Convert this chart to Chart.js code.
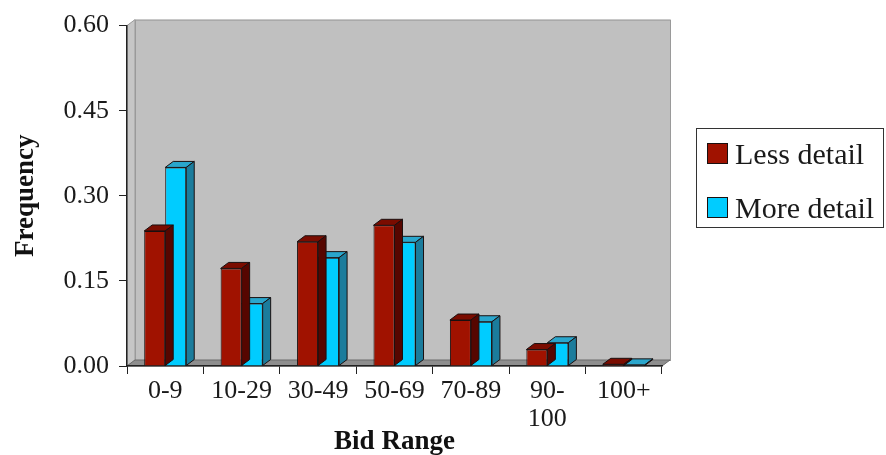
<!DOCTYPE html>
<html>
<head>
<meta charset="utf-8">
<script src="https://cdn.jsdelivr.net/npm/chart.js@4.4.1/dist/chart.umd.min.js"></script>
<style>
  html, body { margin: 0; padding: 0; background: #ffffff; }
  #wrap { width: 886px; height: 455px; }
</style>
</head>
<body>
<div id="wrap"><canvas id="graphe" width="886" height="455"></canvas></div>
<script>
// donnees
const categories = ['0-9', '10-29', '30-49', '50-69', '70-89', ['90-', '100'], '100+'];
const lessDetail = [0.238, 0.172, 0.219, 0.248, 0.081, 0.029, 0.003];
const moreDetail = [0.350, 0.110, 0.191, 0.218, 0.078, 0.041, 0.002];
const yTickLabels = ['0.00', '0.15', '0.30', '0.45', '0.60'];
const seriesNames = ['Less detail', 'More detail'];

// couleurs
const rouge = { front: '#a01200', top: '#7a0c00', side: '#560600' };
const cyan = { front: '#00ccff', top: '#2aa6cc', side: '#1b7c9c' };
const couleurs = [rouge, cyan];

const DX = 8, DY = 6;
const serif = "'Liberation Serif', 'Times New Roman', serif";

// mur et sol en 3D
const murPlugin = {
    id: 'mur',
    beforeDraw(chart) {
        const a = chart.chartArea;
        const ctx = chart.ctx;
        ctx.save();
        ctx.lineWidth = 1;
        // mur du fond
        ctx.fillStyle = '#c0c0c0';
        ctx.strokeStyle = '#9a9a9a';
        ctx.fillRect(a.left + DX, a.top - DY, a.right - a.left, a.bottom - a.top);
        ctx.strokeRect(a.left + DX + 0.5, a.top - DY + 0.5, a.right - a.left, a.bottom - a.top);
        // mur de gauche
        ctx.fillStyle = '#c6c6c6';
        ctx.beginPath();
        ctx.moveTo(a.left, a.top);
        ctx.lineTo(a.left + DX, a.top - DY);
        ctx.lineTo(a.left + DX, a.bottom - DY);
        ctx.lineTo(a.left, a.bottom);
        ctx.closePath();
        ctx.fill();
        ctx.stroke();
        // sol
        ctx.fillStyle = '#8e8e8e';
        ctx.beginPath();
        ctx.moveTo(a.left, a.bottom);
        ctx.lineTo(a.left + DX, a.bottom - DY);
        ctx.lineTo(a.right + DX, a.bottom - DY);
        ctx.lineTo(a.right, a.bottom);
        ctx.closePath();
        ctx.fill();
        ctx.strokeStyle = '#6a6a6a';
        ctx.stroke();
        ctx.restore();
    },
    afterDatasetDraw(chart, args) {
        const ctx = chart.ctx;
        const c = couleurs[args.index];
        ctx.save();
        ctx.lineWidth = 1;
        ctx.strokeStyle = '#1a1010';
        args.meta.data.forEach(bar => {
            const x1 = bar.x - bar.width / 2;
            const x2 = bar.x + bar.width / 2;
            const top = bar.y;
            const base = bar.base;
            // face de dessus
            ctx.fillStyle = c.top;
            ctx.beginPath();
            ctx.moveTo(x1, top);
            ctx.lineTo(x1 + DX, top - DY);
            ctx.lineTo(x2 + DX, top - DY);
            ctx.lineTo(x2, top);
            ctx.closePath();
            ctx.fill();
            ctx.stroke();
            // face de cote
            ctx.fillStyle = c.side;
            ctx.beginPath();
            ctx.moveTo(x2, top);
            ctx.lineTo(x2 + DX, top - DY);
            ctx.lineTo(x2 + DX, base - DY);
            ctx.lineTo(x2, base);
            ctx.closePath();
            ctx.fill();
            ctx.stroke();
        });
        ctx.restore();
    },
    afterDraw(chart) {
        // legende
        const ctx = chart.ctx;
        ctx.save();
        ctx.strokeStyle = '#333333';
        ctx.lineWidth = 1;
        ctx.fillStyle = '#ffffff';
        ctx.fillRect(696, 128, 187, 99);
        ctx.strokeRect(696.5, 128.5, 187, 99);
        ctx.font = '30px ' + serif;
        ctx.textBaseline = 'alphabetic';
        for (let i = 0; i < seriesNames.length; i++) {
            const y = 143 + i * 54;
            ctx.fillStyle = couleurs[i].front;
            ctx.fillRect(707, y, 21, 21);
            ctx.strokeStyle = '#1a1010';
            ctx.strokeRect(707.5, y + 0.5, 20, 20);
            ctx.fillStyle = '#1a1a1a';
            ctx.fillText(seriesNames[i], 735, y + 21);
        }
        ctx.restore();
    }
};

var chart = new Chart(document.getElementById('graphe'), {
    type: 'bar',
    data: {
        labels: categories,
        datasets: [
            { label: seriesNames[0], data: lessDetail, backgroundColor: rouge.front,
              borderColor: '#1a1010', borderWidth: 1, categoryPercentage: 0.55, barPercentage: 1 },
            { label: seriesNames[1], data: moreDetail, backgroundColor: cyan.front,
              borderColor: '#1a1010', borderWidth: 1, categoryPercentage: 0.55, barPercentage: 1 }
        ]
    },
    options: {
        responsive: false,
        animation: false,
        layout: { padding: { top: 19, right: 224, left: 0, bottom: 0 } },
        plugins: {
            legend: { display: false },
            tooltip: { enabled: false }
        },
        scales: {
            x: {
                grid: { offset: true, drawOnChartArea: false, drawTicks: true, tickLength: 8, color: '#222' },
                border: { display: true, color: '#222', width: 1.5 },
                ticks: { font: { family: serif, size: 26, lineHeight: 1.05 }, color: '#1a1a1a', padding: 4, maxRotation: 0, autoSkip: false },
                title: { display: true, text: 'Bid Range', font: { family: serif, size: 27, weight: 'bold' },
                         color: '#111', padding: { top: 0, bottom: -3 } },
                afterFit(s) { s.height = 89; }
            },
            y: {
                min: 0, max: 0.6,
                ticks: { stepSize: 0.15, font: { family: serif, size: 26 }, color: '#1a1a1a', padding: 10,
                         callback: (v, i) => yTickLabels[i] },
                grid: { drawOnChartArea: false, drawTicks: true, tickLength: 8, color: '#222' },
                border: { display: true, color: '#222', width: 1.5 },
                title: { display: true, text: 'Frequency', font: { family: serif, size: 27, weight: 'bold' },
                         color: '#111', padding: { top: 10, bottom: 0 } },
                afterFit(s) { s.width = 127; }
            }
        }
    },
    plugins: [murPlugin]
});
</script>
</body>
</html>
